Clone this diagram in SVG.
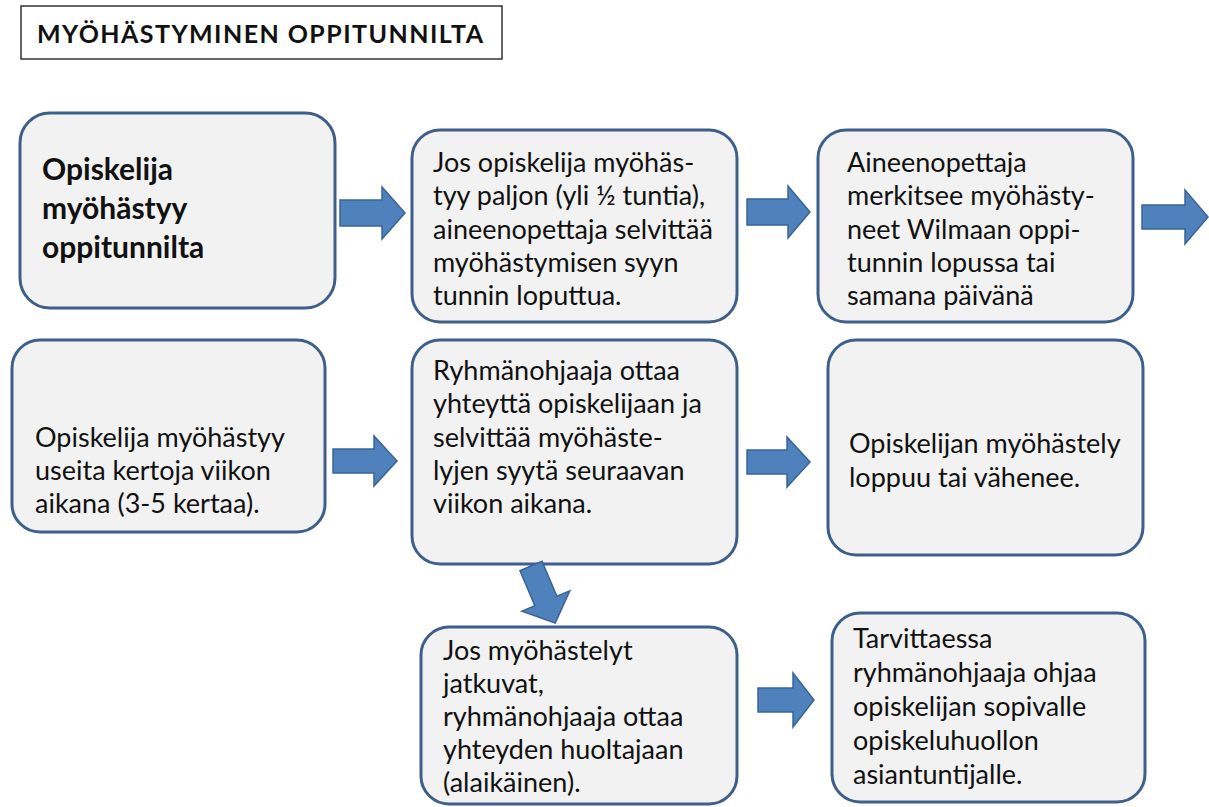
<svg xmlns="http://www.w3.org/2000/svg" width="1209" height="807" viewBox="0 0 1209 807">
<style>
.box{fill:#F2F2F2;stroke:#3F5F8B;stroke-width:3}
.t{font-family:Lato,"Liberation Sans",sans-serif;font-size:27px;fill:#111}
.b{font-family:Lato,"Liberation Sans",sans-serif;font-size:30px;font-weight:bold;fill:#111}
.arr{fill:#4F81BD;stroke:#3A6496;stroke-width:1.5;stroke-linejoin:miter}
</style>
<rect width="1209" height="807" fill="#ffffff"/>
<g id="title">
<rect x="21" y="6" width="481" height="53" fill="#ffffff" stroke="#333" stroke-width="1.5"/>
<text x="37" y="43" font-family="Lato,'Liberation Sans',sans-serif" font-size="25" font-weight="bold" fill="#111" textLength="446">MYÖHÄSTYMINEN OPPITUNNILTA</text>
</g>
<g id="n1">
<rect class="box" x="20" y="113" width="315" height="195" rx="30"/>
<text class="b" x="42"><tspan x="42" y="180">Opiskelija</tspan><tspan x="42" y="219">myöhästyy</tspan><tspan x="42" y="258">oppitunnilta</tspan></text>
</g>
<g id="n2">
<rect class="box" x="412" y="130" width="325" height="192" rx="28"/>
<text class="t"><tspan x="433" y="172">Jos opiskelija  myöhäs-</tspan><tspan x="433" y="205">tyy paljon  (yli ½ tuntia),</tspan><tspan x="433" y="239">aineenopettaja  selvittää</tspan><tspan x="433" y="272">myöhästymisen syyn</tspan><tspan x="433" y="305">tunnin loputtua.</tspan></text>
</g>
<g id="n3">
<rect class="box" x="818" y="130" width="315" height="192" rx="28"/>
<text class="t"><tspan x="847" y="172">Aineenopettaja</tspan><tspan x="847" y="205">merkitsee  myöhästy-</tspan><tspan x="847" y="239">neet Wilmaan oppi-</tspan><tspan x="847" y="272">tunnin lopussa tai</tspan><tspan x="847" y="305">samana päivänä</tspan></text>
</g>
<g id="n4">
<rect class="box" x="12" y="340" width="313" height="192" rx="28"/>
<text class="t"><tspan x="35" y="447">Opiskelija myöhästyy</tspan><tspan x="35" y="480">useita kertoja viikon</tspan><tspan x="35" y="513">aikana (3-5 kertaa).</tspan></text>
</g>
<g id="n5">
<rect class="box" x="412" y="340" width="325" height="224" rx="28"/>
<text class="t"><tspan x="433" y="380">Ryhmänohjaaja  ottaa</tspan><tspan x="433" y="413">yhteyttä opiskelijaan ja</tspan><tspan x="433" y="447">selvittää  myöhäste-</tspan><tspan x="433" y="480">lyjen syytä seuraavan</tspan><tspan x="433" y="513">viikon aikana.</tspan></text>
</g>
<g id="n6">
<rect class="box" x="828" y="340" width="315" height="215" rx="28"/>
<text class="t"><tspan x="849" y="453">Opiskelijan myöhästely</tspan><tspan x="849" y="487">loppuu  tai vähenee.</tspan></text>
</g>
<g id="n7">
<rect class="box" x="421" y="627" width="316" height="177" rx="28"/>
<text class="t"><tspan x="443" y="660">Jos myöhästelyt</tspan><tspan x="443" y="693">jatkuvat,</tspan><tspan x="443" y="726">ryhmänohjaaja  ottaa</tspan><tspan x="443" y="759">yhteyden huoltajaan</tspan><tspan x="443" y="792">(alaikäinen).</tspan></text>
</g>
<g id="n8">
<rect class="box" x="832" y="613" width="313" height="189" rx="28"/>
<text class="t"><tspan x="853" y="648">Tarvittaessa</tspan><tspan x="853" y="682">ryhmänohjaaja  ohjaa</tspan><tspan x="853" y="716">opiskelijan sopivalle</tspan><tspan x="853" y="750">opiskeluhuollon</tspan><tspan x="853" y="784">asiantuntijalle.</tspan></text>
</g>
<g id="connectors">
<path class="arr" d="M340,200 H382 V187 L405,213 L382,239 V226 H340 Z"/>
<path class="arr" d="M747,199 H788 V186 L810,212 L788,238 V225 H747 Z"/>
<path class="arr" d="M1142,205 H1185 V190 L1208,217 L1185,244 V229 H1142 Z"/>
<path class="arr" d="M333,449 H374 V436 L397,461 L374,486 V473 H333 Z"/>
<path class="arr" d="M747,450 H787 V437 L810,462 L787,487 V474 H747 Z"/>
<path class="arr" d="M758,688 H793 V673 L814,700 L793,727 V712 H758 Z"/>
<path class="arr" transform="translate(531,566) rotate(67)" d="M0,-12 H38 V-26 L62,0 L38,26 V12 H0 Z"/>
</g>
</svg>
